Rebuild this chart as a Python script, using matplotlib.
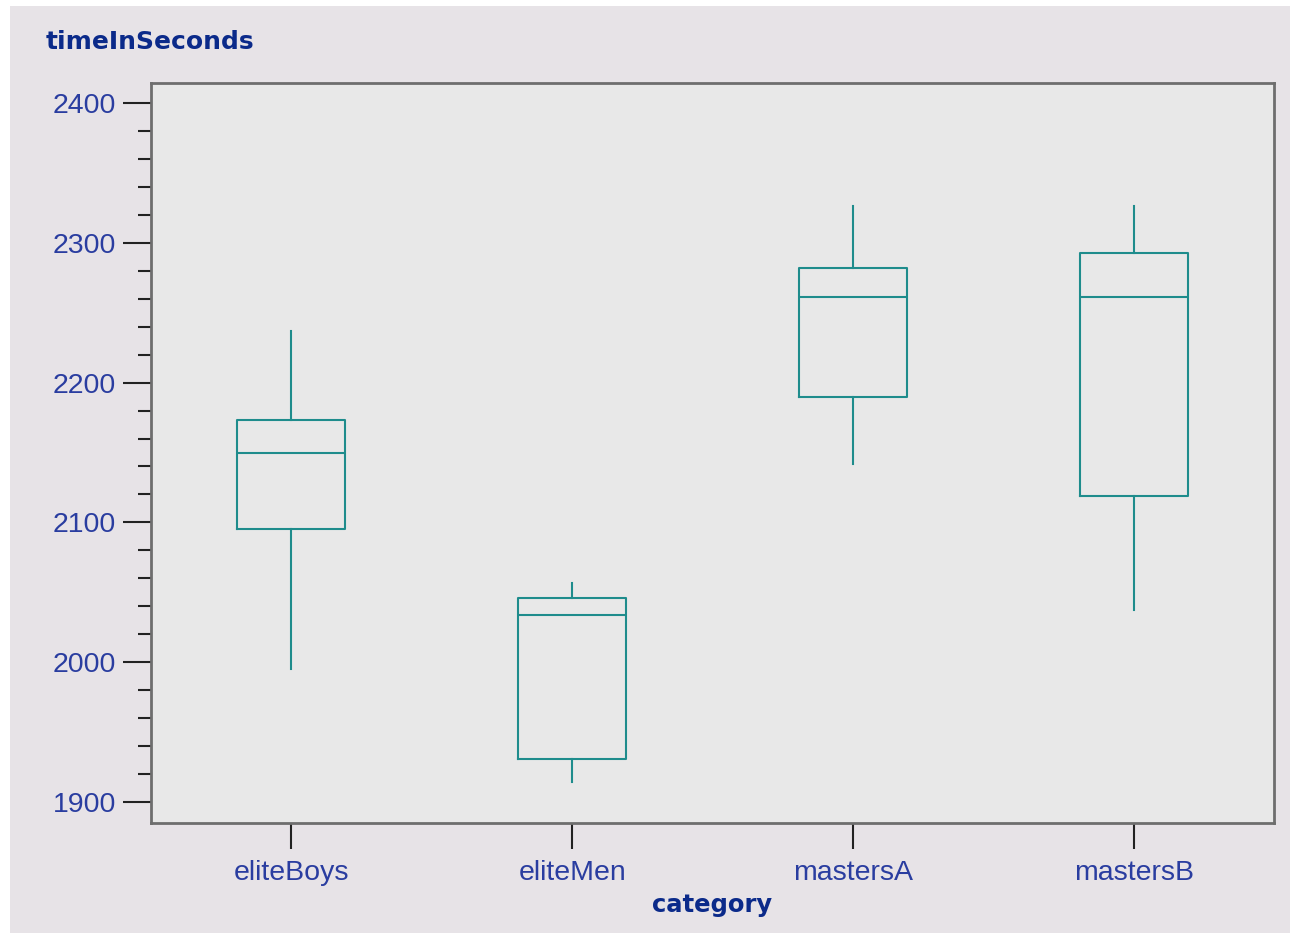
import matplotlib.pyplot as plt
from matplotlib.patches import Rectangle
from matplotlib.ticker import MultipleLocator

categories = ["eliteBoys", "eliteMen", "mastersA", "mastersB"]
whisker_low = [1995, 1914, 2142, 2037]
q1 = [2095, 1931, 2190, 2119]
median = [2150, 2034, 2261, 2261]
q3 = [2173, 2046, 2282, 2293]
whisker_high = [2237, 2057, 2326, 2326]

box_color = "#1E8C8C"
tick_color = "#2A3DA0"
title_color = "#0B2A8A"
bg_color = "#E7E3E7"

stats = []
for name, lo, a, m, b, hi in zip(categories, whisker_low, q1, median, q3, whisker_high):
    stats.append(dict(label=name, whislo=lo, q1=a, med=m, q3=b, whishi=hi, fliers=[]))

fig = plt.figure(figsize=(12.9, 9.33), dpi=100)
fig.patch.set_facecolor("white")
fig.patches.append(Rectangle((10 / 1290, 0), 1, (933 - 6) / 933,
                             transform=fig.transFigure, facecolor=bg_color,
                             edgecolor="none", zorder=-10))

ax = fig.add_axes([151 / 1290, (933 - 823) / 933, (1274 - 151) / 1290, (823 - 83) / 933])
ax.set_facecolor("#E8E8E8")

line = dict(color=box_color, linewidth=1.5)
ax.bxp(stats, positions=range(1, 5), widths=0.384, showfliers=False, showcaps=False,
       boxprops=line, whiskerprops=line, medianprops=line)

ax.set_xlim(0.5, 4.5)
ax.set_ylim(1885, 2414.3)
ax.yaxis.set_major_locator(MultipleLocator(100))
ax.yaxis.set_minor_locator(MultipleLocator(20))

for s in ax.spines.values():
    s.set_color("#6E6E6E")
    s.set_linewidth(2)

ax.tick_params(axis="y", which="major", length=20, width=1.5, color="#222222",
               labelsize=20.5, labelcolor=tick_color, pad=5)
ax.tick_params(axis="y", which="minor", length=9.5, width=1.5, color="#222222")
ax.tick_params(axis="x", which="major", length=19, width=1.5, color="#222222",
               labelsize=20.5, labelcolor=tick_color, pad=8)
for lbl in ax.get_xticklabels() + ax.get_yticklabels():
    lbl.set_fontfamily("Liberation Sans")

fig.text(46 / 1290, 1 - 42 / 933, "timeInSeconds", fontsize=18, fontweight="bold",
         color=title_color, ha="left", va="center", family="DejaVu Sans")
fig.text(712 / 1290, 1 - 905 / 933, "category", fontsize=17.5, fontweight="bold",
         color=title_color, ha="center", va="center", family="DejaVu Sans")

fig.savefig("out.png", dpi=100, facecolor=fig.get_facecolor())
